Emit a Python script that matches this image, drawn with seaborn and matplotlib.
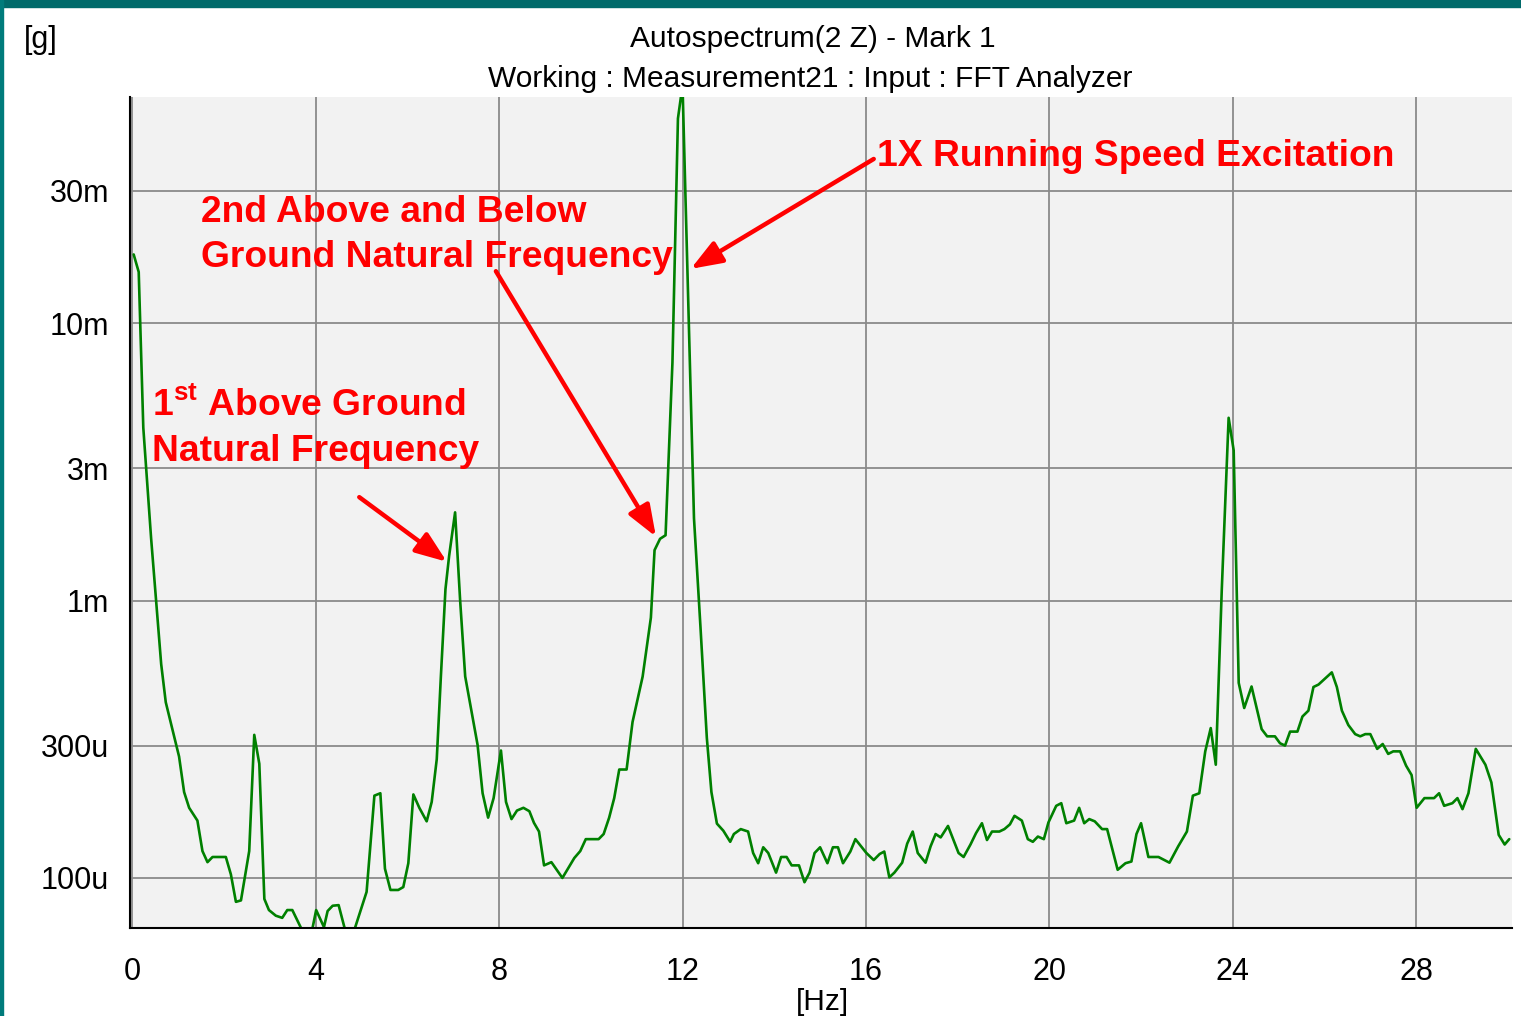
import seaborn as sns
import matplotlib.pyplot as plt
import pandas as pd
import numpy as np
from matplotlib.patches import Rectangle
from matplotlib.ticker import NullLocator

# autospectrum (Hz, g)
freq_hz = [0.03, 0.14, 0.24, 0.41, 0.52, 0.63, 0.73, 1.02, 1.13, 1.24, 1.42, 1.53, 1.64, 1.75,
           2.04, 2.15, 2.26, 2.37, 2.55, 2.66, 2.77, 2.88, 2.98, 3.13, 3.27, 3.38, 3.49, 3.68,
           3.75, 3.88, 4.01, 4.18, 4.26, 4.37, 4.50, 4.63, 4.75, 4.85, 5.11, 5.28, 5.41, 5.51,
           5.63, 5.80, 5.91, 6.02, 6.13, 6.26, 6.42, 6.53, 6.64, 6.73, 6.83, 6.91, 7.04, 7.15,
           7.26, 7.53, 7.64, 7.76, 7.88, 8.04, 8.15, 8.27, 8.39, 8.53, 8.66, 8.76, 8.87, 8.98,
           9.14, 9.38, 9.64, 9.77, 9.89, 10.17, 10.28, 10.40, 10.51, 10.62, 10.78, 10.91, 11.13,
           11.31, 11.39, 11.51, 11.63, 11.78, 11.90, 12.00, 12.25, 12.39, 12.53, 12.63, 12.75,
           12.89, 13.04, 13.12, 13.27, 13.43, 13.54, 13.65, 13.76, 13.87, 14.04, 14.15, 14.27,
           14.38, 14.54, 14.66, 14.77, 14.88, 15.00, 15.16, 15.28, 15.39, 15.50, 15.66, 15.77,
           16.01, 16.17, 16.30, 16.40, 16.51, 16.62, 16.79, 16.90, 17.02, 17.13, 17.30, 17.41,
           17.52, 17.63, 17.79, 17.91, 18.02, 18.13, 18.28, 18.40, 18.53, 18.64, 18.75, 18.91,
           19.02, 19.14, 19.24, 19.40, 19.53, 19.64, 19.75, 19.88, 19.98, 20.15, 20.26, 20.37,
           20.54, 20.65, 20.76, 20.87, 20.99, 21.15, 21.26, 21.49, 21.66, 21.79, 21.90, 22.00,
           22.16, 22.38, 22.62, 22.81, 23.00, 23.13, 23.27, 23.40, 23.52, 23.63, 23.76, 23.91,
           24.02, 24.13, 24.25, 24.41, 24.52, 24.63, 24.75, 24.92, 25.03, 25.14, 25.25, 25.41,
           25.52, 25.65, 25.76, 25.87, 26.16, 26.27, 26.38, 26.52, 26.67, 26.78, 26.89, 27.00,
           27.15, 27.27, 27.39, 27.50, 27.65, 27.78, 27.90, 28.01, 28.18, 28.39, 28.50, 28.61,
           28.79, 28.90, 29.01, 29.14, 29.30, 29.51, 29.64, 29.80, 29.93, 30.03]
amp_g = [0.0177, 0.0153, 0.0042, 0.00168, 0.00100, 0.00059, 0.00043, 0.000274, 0.000204,
         0.000179, 0.000161, 0.000125, 0.000114, 0.000119, 0.000119, 0.000103, 0.000082,
         0.000083, 0.000125, 0.000328, 0.000258, 0.000084, 0.0000766, 0.0000731, 0.0000718,
         0.0000766, 0.0000766, 0.000066, 0.000058, 0.000060, 0.0000766, 0.0000665, 0.0000760,
         0.0000794, 0.0000798, 0.0000660, 0.000055, 0.0000655, 0.0000891, 0.000198, 0.000202,
         0.000108, 0.0000905, 0.0000905, 0.0000927, 0.000113, 0.000200, 0.000179, 0.000160,
         0.000188, 0.000268, 0.000533, 0.00110, 0.00145, 0.00208, 0.00100, 0.000533, 0.000302,
         0.000202, 0.000165, 0.000194, 0.000288, 0.000188, 0.000163, 0.000175, 0.000179,
         0.000174, 0.000158, 0.000147, 0.000111, 0.000114, 0.000100, 0.000118, 0.000125,
         0.000138, 0.000138, 0.000144, 0.000165, 0.000194, 0.000246, 0.000246, 0.000365,
         0.000532, 0.000868, 0.00152, 0.00167, 0.00172, 0.00721, 0.0547, 0.072, 0.00198,
         0.00081, 0.00032, 0.000204, 0.000157, 0.000148, 0.000135, 0.000144, 0.000150,
         0.000147, 0.000123, 0.000113, 0.000129, 0.000123, 0.0001045, 0.000119, 0.000119,
         0.000111, 0.000111, 0.0000965, 0.0001045, 0.000123, 0.000129, 0.000113, 0.000129,
         0.000129, 0.000113, 0.0001245, 0.000138, 0.000123, 0.000116, 0.000122, 0.0001245,
         0.0001005, 0.0001045, 0.0001135, 0.000133, 0.000147, 0.000123, 0.0001135, 0.000130,
         0.000144, 0.000140, 0.000154, 0.000137, 0.000123, 0.000119, 0.000132, 0.000145,
         0.0001575, 0.000137, 0.000147, 0.000147, 0.000150, 0.000156, 0.0001675, 0.000161,
         0.000138, 0.000135, 0.000141, 0.000138, 0.0001585, 0.000182, 0.000186, 0.0001575,
         0.000161, 0.000179, 0.0001575, 0.000163, 0.000160, 0.000150, 0.000150, 0.000107,
         0.000113, 0.0001146, 0.000144, 0.0001575, 0.000119, 0.000119, 0.0001135, 0.000130,
         0.000147, 0.000198, 0.000202, 0.000286, 0.000347, 0.000256, 0.00109, 0.00456,
         0.00348, 0.000505, 0.000410, 0.000490, 0.000410, 0.000344, 0.000324, 0.000324,
         0.000306, 0.000300, 0.000337, 0.000337, 0.000382, 0.000401, 0.000488, 0.000498,
         0.000551, 0.000488, 0.000401, 0.000356, 0.000330, 0.000324, 0.000330, 0.000330,
         0.000292, 0.000304, 0.000280, 0.000286, 0.000286, 0.000254, 0.000235, 0.000179,
         0.000194, 0.000194, 0.000202, 0.000182, 0.000186, 0.000194, 0.000177, 0.000202,
         0.000292, 0.000256, 0.000221, 0.000143, 0.000132, 0.000138]

x_ticks = [0, 4, 8, 12, 16, 20, 24, 28]
y_ticks = [100e-6, 300e-6, 1e-3, 3e-3, 10e-3, 30e-3]
y_tick_labels = ['100u', '300u', '1m', '3m', '10m', '30m']

df = pd.DataFrame({'Hz': freq_hz, 'g': amp_g})

sns.set_style('white')
plt.rcParams['font.family'] = ['Liberation Sans', 'DejaVu Sans']
plt.rcParams['text.color'] = 'black'
plt.rcParams['mathtext.fontset'] = 'custom'
plt.rcParams['mathtext.rm'] = 'Liberation Sans'
plt.rcParams['mathtext.bf'] = 'Liberation Sans:bold'

W, H = 1521, 1016
fig = plt.figure(figsize=(W / 100, H / 100), dpi=100)

# teal frame of the screenshot
fig.patches.append(Rectangle((0, 1 - 7 / H), 1, 7 / H, transform=fig.transFigure,
                             color='#006a6a', zorder=0))
fig.patches.append(Rectangle((0, 0), 3 / W, 1, transform=fig.transFigure,
                             color='#007b7b', zorder=0))

ax = fig.add_axes([130 / W, 1 - 928 / H, (1512 - 130) / W, (928 - 97) / H])
ax.set_facecolor('#f2f2f2')

sns.lineplot(data=df, x='Hz', y='g', color='#008000', linewidth=1.9, ax=ax)

ax.set_yscale('log')
ax.set_xlim(-0.05, 30.09)
ax.set_ylim(6.6e-5, 0.0654)
ax.set_xticks(x_ticks)
ax.set_yticks(y_ticks, y_tick_labels)
ax.yaxis.set_minor_locator(NullLocator())
ax.set_xlabel('')
ax.set_ylabel('')

ax.grid(True, color='#8a8a8a', linewidth=1.3)
for side in ['top', 'right']:
    ax.spines[side].set_visible(False)
for side in ['left', 'bottom']:
    ax.spines[side].set_color('black')
    ax.spines[side].set_linewidth(1.5)
ax.tick_params(axis='both', direction='out', length=12, width=1.5, color='#808080',
               labelsize=22, labelcolor='black')
ax.tick_params(axis='x', pad=9)
ax.tick_params(axis='y', pad=3)

# titles and units
fig.text(41 / W, 1 - 40 / H, '[g]', fontsize=22, ha='center', va='center', color='black')
fig.text(813 / W, 1 - 39 / H, 'Autospectrum(2 Z) - Mark 1', fontsize=21.5,
         ha='center', va='center', color='black')
fig.text(810 / W, 1 - 79 / H, 'Working : Measurement21 : Input : FFT Analyzer', fontsize=21.5,
         ha='center', va='center', color='black')
fig.text(822 / W, 1 - 1002 / H, '[Hz]', fontsize=21.5, ha='center', va='center', color='black')

# red annotations
red = dict(color='#ff0000', fontsize=26.8, fontweight='bold', va='baseline', ha='left')
ax.text(16.25, 0.0368, '1X Running Speed Excitation', **red)
ax.text(1.50, 0.0231, '2nd Above and Below', **red)
ax.text(1.50, 0.0159, 'Ground Natural Frequency', **red)
ax.text(0.42, 0.00462, r'$\mathbf{1}^{\mathbf{st}}$ Above Ground', **red)
ax.text(0.42, 0.00318, 'Natural Frequency', **red)

arrow = dict(arrowstyle='-|>,head_length=0.95,head_width=0.36', color='#ff0000', lw=3.2,
             mutation_scale=20, shrinkA=0, shrinkB=0)
ax.annotate('', xy=(12.18, 0.0157), xytext=(16.17, 0.0391), arrowprops=arrow)
ax.annotate('', xy=(11.42, 0.0017), xytext=(7.93, 0.0154), arrowprops=arrow)
ax.annotate('', xy=(6.86, 0.00138), xytext=(4.95, 0.00236), arrowprops=arrow)

fig.savefig('out.png', dpi=100)
